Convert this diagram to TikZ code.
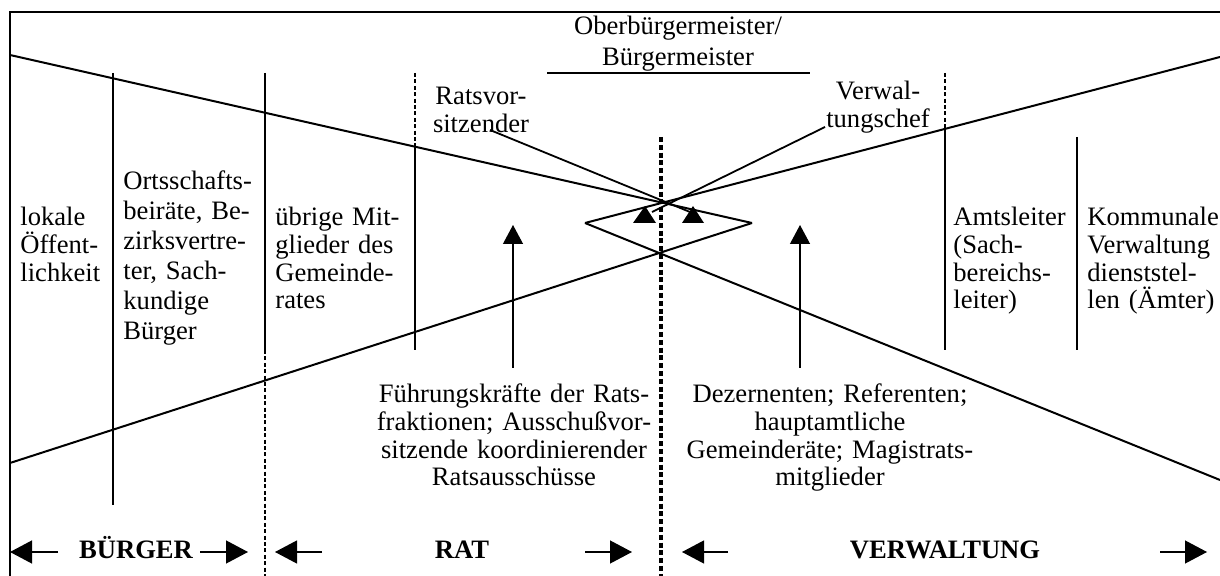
\documentclass[tikz,border=0pt]{standalone}
\usepackage{fontspec}
\setmainfont{Liberation Serif}
\usetikzlibrary{arrows.meta}
\begin{document}
\begin{tikzpicture}[x=0.5pt,y=-0.5pt,
  frame/.style={line width=1.3pt},
  rule/.style={line width=1pt},
  divider/.style={line width=1.3pt, dash pattern=on 2pt off 1.2pt},
  midline/.style={line width=1.6pt, dash pattern=on 2.5pt off 1.4pt},
  pointer/.style={line width=0.9pt},
  uparrow/.style={line width=0.6pt, -{Triangle[length=9.5pt,width=10pt]}},
  sidearrow/.style={line width=0.6pt, -{Triangle[length=11pt,width=11.5pt]}},
  lefttext/.style={font=\fontsize{13.3}{13.8}\selectfont, align=left, text width=80pt, inner sep=0pt, anchor=base west},
  centertext/.style={font=\fontsize{13.3}{13.8}\selectfont, align=center, text width=170pt, inner sep=0pt, anchor=base},
  grouplabel/.style={font=\fontsize{13.3}{13.8}\selectfont\bfseries, inner sep=0pt, anchor=base},
]
\useasboundingbox (0,0) rectangle (1220,576);

% outer frame (open to the right and bottom)
\draw[frame] (10,576) -- (10,12) -- (1220,12);

% the two wedges meeting in the middle
\coordinate (A1) at (10,55);
\coordinate (B1) at (10,463);
\coordinate (C1) at (1220,57);
\coordinate (D1) at (1220,480);
\coordinate (L) at (585,223);
\coordinate (R) at (752,223);
\draw[rule] (A1) -- (R);
\draw[rule] (B1) -- (R);
\draw[rule] (C1) -- (L);
\draw[rule] (D1) -- (L);

% column separators
\draw[rule] (113,73) -- (113,505);
\draw[rule] (265,73) -- (265,350);
\draw[divider] (265,350) -- (265,576);
\draw[divider] (415,73) -- (415,146);
\draw[rule] (415,146) -- (415,350);
\draw[midline] (661,137) -- (661,576);
\draw[divider] (945,73) -- (945,129);
\draw[rule] (945,129) -- (945,350);
\draw[rule] (1077,137) -- (1077,350);

% head of the municipality
\node[centertext, font=\fontsize{13.3}{15.5}\selectfont] (ob) at (678,35) {Oberbürgermeister/\\Bürgermeister};
\draw[rule] (547,73) -- (810,73);

% column texts
\node[lefttext] (oeff) at (20,226) {lokale\\Öffent-\\lichkeit};
\node[lefttext, font=\fontsize{13.3}{15}\selectfont] (orts) at (123,190) {Ortsschafts-\\beiräte, Be-\\zirksvertre-\\ter, Sach-\\kundige\\Bürger};
\node[lefttext] (mitgl) at (275,226) {übrige Mit-\\glieder des\\Gemeinde-\\rates};
\node[lefttext] (amts) at (953,226) {Amtsleiter\\(Sach-\\bereichs-\\leiter)};
\node[lefttext] (komm) at (1087,226) {Kommunale\\Verwaltung\\dienststel-\\len (Ämter)};

% the two roles of the mayor
\node[centertext, text width=60pt] (rats) at (481,105) {Ratsvor-\\sitzender};
\node[centertext, text width=60pt] (verw) at (878,100) {Verwal-\\tungschef};
\coordinate (ratsfoot) at (490,130);
\coordinate (ratstip) at (690,212);
\coordinate (verwfoot) at (825,127);
\coordinate (verwtip) at (652,212);
\draw[pointer] (ratsfoot) -- (ratstip);
\draw[pointer] (verwfoot) -- (verwtip);
\fill (633,223) -- (645,206) -- (656,223) -- cycle;
\fill (682,223) -- (693,206) -- (704,223) -- cycle;

% leading groups below
\node[centertext] (fk) at (514,403) {Führungskräfte der Rats-\\fraktionen; Ausschußvor-\\sitzende koordinierender\\Ratsausschüsse};
\node[centertext] (dez) at (830,403) {Dezernenten; Referenten;\\hauptamtliche\\Gemeinderäte; Magistrats-\\mitglieder};
\coordinate (fkfoot) at (513,368);
\coordinate (fktip) at (513,225);
\coordinate (dezfoot) at (800,368);
\coordinate (deztip) at (800,225);
\draw[uparrow] (fkfoot) -- (fktip);
\draw[uparrow] (dezfoot) -- (deztip);

% sector labels with extent arrows
\node[grouplabel] (buerger) at (136,559) {BÜRGER};
\node[grouplabel] (rat) at (462,559) {RAT};
\node[grouplabel] (verwaltung) at (945,559) {VERWALTUNG};
\coordinate (b1) at (58,552);  \coordinate (b1t) at (10,552);
\coordinate (b2) at (200,552); \coordinate (b2t) at (248,552);
\coordinate (r1) at (322,552); \coordinate (r1t) at (275,552);
\coordinate (r2) at (585,552); \coordinate (r2t) at (632,552);
\coordinate (v1) at (728,552); \coordinate (v1t) at (682,552);
\coordinate (v2) at (1160,552); \coordinate (v2t) at (1207,552);
\draw[sidearrow] (b1) -- (b1t);
\draw[sidearrow] (b2) -- (b2t);
\draw[sidearrow] (r1) -- (r1t);
\draw[sidearrow] (r2) -- (r2t);
\draw[sidearrow] (v1) -- (v1t);
\draw[sidearrow] (v2) -- (v2t);
\end{tikzpicture}
\end{document}
